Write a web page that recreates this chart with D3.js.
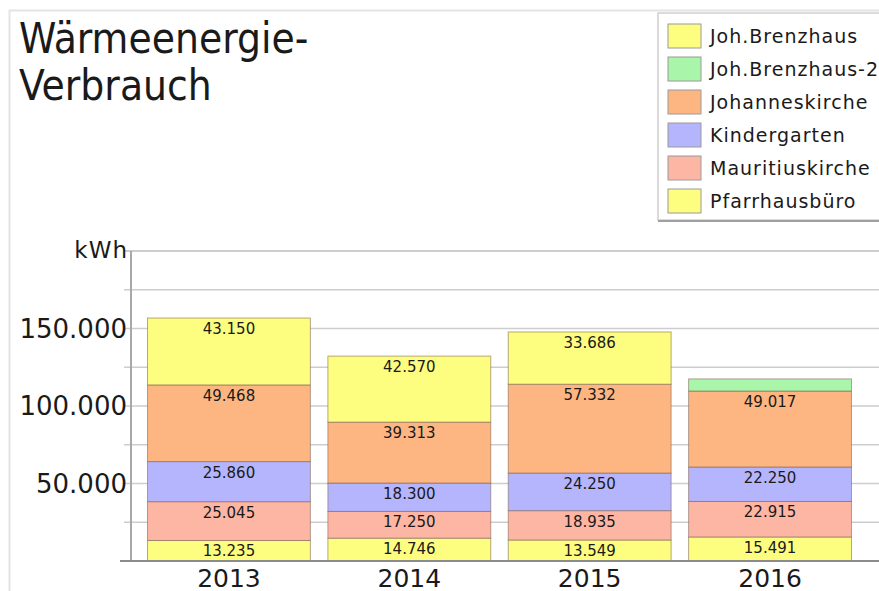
<!DOCTYPE html>
<html>
<head>
<meta charset="utf-8">
<script src="https://cdn.jsdelivr.net/npm/d3@7"></script>
<style>
  body { margin: 0; background: #fff; }
  text { font-family: "DejaVu Sans", sans-serif; fill: #1a1a1a; }
</style>
</head>
<body>
<script>
var width = 879;
var height = 591;

// data
var years = ["2013", "2014", "2015", "2016"];
var seriesNames = ["Pfarrhausbüro", "Mauritiuskirche", "Kindergarten", "Johanneskirche", "Joh.Brenzhaus-2", "Joh.Brenzhaus"];
var seriesColors = ["#fdfd80", "#fdb6a3", "#b5b5fd", "#fdb682", "#a9f5a9", "#fdfd80"];
var pfarrhaus = [13235, 14746, 13549, 15491];
var mauritius = [25045, 17250, 18935, 22915];
var kindergarten = [25860, 18300, 24250, 22250];
var johannes = [49468, 39313, 57332, 49017];
var brenzhaus2 = [0, 0, 0, 7800];
var brenzhaus = [43150, 42570, 33686, 0];
var legendOrder = ["Joh.Brenzhaus", "Joh.Brenzhaus-2", "Johanneskirche", "Kindergarten", "Mauritiuskirche", "Pfarrhausbüro"];
var yTickLabels = [50000, 100000, 150000];

var seriesValues = [pfarrhaus, mauritius, kindergarten, johannes, brenzhaus2, brenzhaus];

var rows = years.map(function(y, i) {
  var r = { year: y };
  seriesNames.forEach(function(s, k) { r[s] = seriesValues[k][i]; });
  return r;
});

var svg = d3.select("body").append("svg")
    .attr("width", width)
    .attr("height", height);

// frame
svg.append("line").attr("x1", 9.5).attr("x2", 9.5).attr("y1", 10).attr("y2", height)
  .attr("stroke", "#e4e4e4").attr("stroke-width", 2);
svg.append("line").attr("x1", 9).attr("x2", width).attr("y1", 10.5).attr("y2", 10.5)
  .attr("stroke", "#e4e4e4").attr("stroke-width", 2);

var x = d3.scaleBand()
    .domain(years)
    .range([138.5, 860.5])
    .paddingInner(0.097)
    .paddingOuter(0.05);

var y = d3.scaleLinear()
    .domain([0, 200000])
    .range([561, 251]);

var fmt = function(v) { return d3.format(",")(v).replace(/,/g, "."); };

// grid lines
svg.append("g").selectAll("line")
  .data(d3.range(25000, 200001, 25000))
  .enter().append("line")
  .attr("x1", 124).attr("x2", width)
  .attr("y1", function(d) { return y(d); })
  .attr("y2", function(d) { return y(d); })
  .attr("stroke", "#cdcdcd")
  .attr("stroke-width", function(d) { return d === 200000 ? 2 : 1.6; });

// y axis line
svg.append("line").attr("x1", 131).attr("x2", 131).attr("y1", y(200000)).attr("y2", y(0))
  .attr("stroke", "#a8a8a8").attr("stroke-width", 2);

// y labels
svg.append("g").selectAll("text")
  .data(yTickLabels)
  .enter().append("text")
  .attr("x", 127)
  .attr("y", function(d) { return y(d) + 9; })
  .attr("text-anchor", "end")
  .style("font-size", "26px")
  .text(fmt);

svg.append("text")
  .attr("x", 128).attr("y", 258)
  .attr("text-anchor", "end")
  .style("font-size", "23px")
  .style("letter-spacing", "1px")
  .text("kWh");

// stacked bars
var stack = d3.stack().keys(seriesNames);
var layers = stack(rows);

var layer = svg.append("g").selectAll("g")
  .data(layers)
  .enter().append("g")
  .attr("fill", function(d, i) { return seriesColors[i]; });

layer.selectAll("rect")
  .data(function(d) { return d.filter(function(p) { return p[1] - p[0] > 0; }); })
  .enter().append("rect")
  .attr("x", function(d) { return x(d.data.year); })
  .attr("width", x.bandwidth())
  .attr("y", function(d) { return y(d[1]); })
  .attr("height", function(d) { return y(d[0]) - y(d[1]); })
  .attr("stroke", "rgba(120,95,80,0.55)")
  .attr("stroke-width", 1);

// value labels
layer.selectAll("text")
  .data(function(d) { return d.filter(function(p) { return p[1] - p[0] > 12000; }); })
  .enter().append("text")
  .attr("x", function(d) { return x(d.data.year) + x.bandwidth() / 2; })
  .attr("y", function(d) { return y(d[1]) + 16; })
  .attr("text-anchor", "middle")
  .style("font-size", "15px")
  .text(function(d) { return fmt(d[1] - d[0]); });

// x axis
svg.append("line").attr("x1", 120).attr("x2", width).attr("y1", 561).attr("y2", 561)
  .attr("stroke", "#8c8c8c").attr("stroke-width", 2);

svg.append("g").selectAll("text")
  .data(years)
  .enter().append("text")
  .attr("x", function(d) { return x(d) + x.bandwidth() / 2; })
  .attr("y", 587)
  .attr("text-anchor", "middle")
  .style("font-size", "25px")
  .text(function(d) { return d; });

// title
svg.append("text").attr("x", 19).attr("y", 53)
  .style("font-family", "'DejaVu Sans Condensed', 'DejaVu Sans', sans-serif")
  .style("font-size", "42px").text("Wärmeenergie-");
svg.append("text").attr("x", 19).attr("y", 100)
  .style("font-family", "'DejaVu Sans Condensed', 'DejaVu Sans', sans-serif")
  .style("font-size", "42px").text("Verbrauch");

// legend
var lg = svg.append("g");
lg.append("rect").attr("x", 658).attr("y", 13).attr("width", 240).attr("height", 207)
  .attr("fill", "#fff").attr("stroke", "#cfcfcf").attr("stroke-width", 1.5);
lg.append("line").attr("x1", 658).attr("x2", width).attr("y1", 221).attr("y2", 221)
  .attr("stroke", "#a0a0a0").attr("stroke-width", 2);

var item = lg.selectAll("g.item")
  .data(legendOrder)
  .enter().append("g")
  .attr("class", "item")
  .attr("transform", function(d, i) { return "translate(668," + (24 + i * 33) + ")"; });

item.append("rect")
  .attr("width", 33).attr("height", 24)
  .attr("fill", function(d) { return seriesColors[seriesNames.indexOf(d)]; })
  .attr("stroke", "#9a9a9a").attr("stroke-width", 1);

item.append("text")
  .attr("x", 42).attr("y", 19)
  .style("font-size", "19px")
  .style("letter-spacing", "1px")
  .text(function(d) { return d; });
</script>
</body>
</html>
